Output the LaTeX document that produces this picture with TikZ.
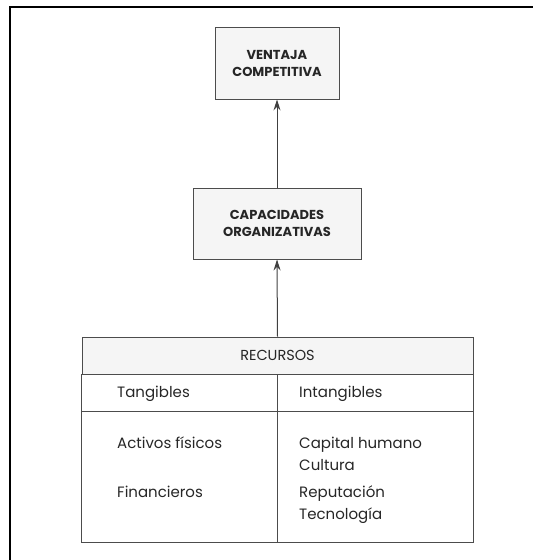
\documentclass[tikz,border=0pt]{standalone}
\usepackage{fontspec}
\setmainfont{Poppins}
\usepackage{tikz}
\usetikzlibrary{arrows.meta}

\begin{document}
\begin{tikzpicture}[x=1pt, y=-1pt,
   caja/.style={draw=black!70, fill=gray!8, line width=0.9pt, align=center,
                font=\bfseries\fontsize{13}{17}\selectfont, text=black!85},
   texto/.style={anchor=base west, inner sep=0pt, font=\fontsize{15}{18}\selectfont, text=black!85},
   flecha/.style={draw=black!75, line width=1pt, -{Stealth[length=11pt, width=7pt]}}]

   \useasboundingbox (0,0) rectangle (533,560);
   \draw[line width=2pt] (10,560) -- (10,7) -- (533,7);

   \node[caja, minimum width=124pt, minimum height=72pt] (ventaja) at (277,63) {VENTAJA\\COMPETITIVA};
   \node[caja, minimum width=168pt, minimum height=71pt] (capacidades) at (277,223.5) {CAPACIDADES\\ORGANIZATIVAS};
   \node[draw=black!70, fill=gray!8, line width=0.9pt, minimum width=391pt, minimum height=37pt,
         font=\fontsize{14.5}{17}\selectfont, text=black!85] (recursos) at (277.5,355.5) {RECURSOS};

   \draw[draw=black!70, line width=0.9pt] (recursos.south west) rectangle (473,542);
   \draw[draw=black!70, line width=0.9pt] (82,411) -- (473,411);
   \draw[draw=black!70, line width=0.9pt] (277,374) -- (277,542);

   \node[texto] (tangibles) at (117,397) {Tangibles};
   \node[texto] (intangibles) at (299,397) {Intangibles};
   \node[texto] (activos) at (117,448) {Activos físicos};
   \node[texto] (financieros) at (117,497) {Financieros};
   \node[texto] (capital) at (299,448) {Capital humano};
   \node[texto] (cultura) at (299,470) {Cultura};
   \node[texto] (reputacion) at (299,497) {Reputación};
   \node[texto] (tecnologia) at (299,519) {Tecnología};

   \draw[flecha] (recursos.north) -- (capacidades.south);
   \draw[flecha] (capacidades.north) -- (ventaja.south);

\end{tikzpicture}
\end{document}
